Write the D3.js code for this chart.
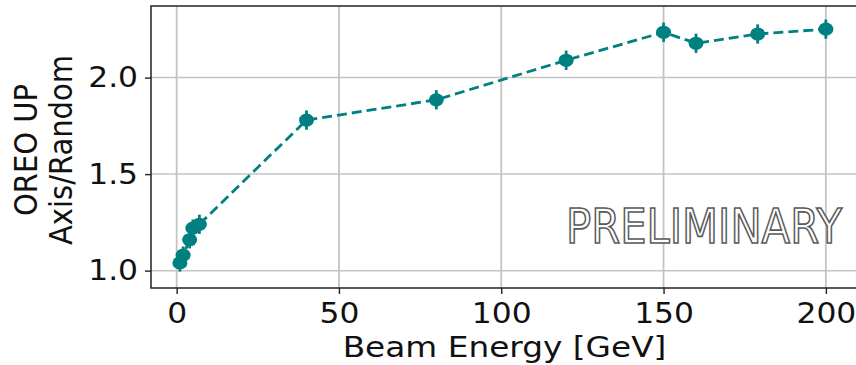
<!DOCTYPE html>
<html>
<head>
<meta charset="UTF-8">
<title>OREO UP Axis/Random vs Beam Energy</title>
<style>
  body { margin: 0; background: #fff; }
  svg { display: block; font-family: "DejaVu Sans", sans-serif; }
</style>
</head>
<body>
<script src="https://cdn.jsdelivr.net/npm/d3@7"></script>
<script>
// data
const energy = [1, 2, 4, 5, 7, 40, 80, 120, 150, 160, 179, 200];
const ratio  = [1.04, 1.08, 1.16, 1.22, 1.24, 1.78, 1.885, 2.09, 2.235, 2.178, 2.226, 2.251];
const ratioErr = [0.045, 0.045, 0.045, 0.045, 0.05, 0.05, 0.05, 0.05, 0.05, 0.05, 0.05, 0.05];
const xTicks = [0, 50, 100, 150, 200];
const yTicks = [1.0, 1.5, 2.0];

const width = 856, height = 365;
const margin = {top: 6, right: -2, bottom: 77, left: 151};
const color = "#008080";
const fs = 29;        // font size
const sx = 1.13;      // the reference is stretched sideways
const sxTick = 1.08;

const svg = d3.select("body").append("svg")
  .attr("width", width)
  .attr("height", height);

const x = d3.scaleLinear()
  .domain([-7.9, 209.9])
  .range([margin.left, width - margin.right]);

const y = d3.scaleLinear()
  .domain([0.910, 2.371])
  .range([height - margin.bottom, margin.top]);

// grid
svg.append("g")
  .selectAll("line")
  .data(xTicks)
  .join("line")
    .attr("x1", d => x(d)).attr("x2", d => x(d))
    .attr("y1", margin.top).attr("y2", height - margin.bottom)
    .attr("stroke", "#c4c4c4").attr("stroke-width", 1.8);

svg.append("g")
  .selectAll("line")
  .data(yTicks)
  .join("line")
    .attr("x1", margin.left).attr("x2", width - margin.right)
    .attr("y1", d => y(d)).attr("y2", d => y(d))
    .attr("stroke", "#c4c4c4").attr("stroke-width", 1.5);

// axes
const xAxis = svg.append("g")
  .attr("transform", `translate(0,${height - margin.bottom})`)
  .call(d3.axisBottom(x).tickValues(xTicks).tickFormat(d3.format("d")).tickSize(6).tickPadding(8));

const yAxis = svg.append("g")
  .attr("transform", `translate(${margin.left},0)`)
  .call(d3.axisLeft(y).tickValues(yTicks).tickFormat(d3.format(".1f")).tickSize(6).tickPadding(6));

[xAxis, yAxis].forEach(a => {
  a.select(".domain").remove();
  a.selectAll(".tick line").attr("stroke", "#222").attr("stroke-width", 1.4);
  a.selectAll(".tick text")
    .attr("font-family", "DejaVu Sans, sans-serif")
    .attr("font-size", fs)
    .attr("fill", "#111")
    .attr("transform", `scale(${sxTick},1)`);
});

// spines
svg.append("rect")
  .attr("x", margin.left).attr("y", margin.top)
  .attr("width", width - margin.right - margin.left)
  .attr("height", height - margin.bottom - margin.top)
  .attr("fill", "none").attr("stroke", "#222").attr("stroke-width", 1.5);

// preliminary watermark
const prelim = svg.append("g").attr("transform", "translate(566,243)");
const pt = prelim.append("text")
  .attr("font-family", "DejaVu Sans, sans-serif")
  .attr("font-size", 48)
  .attr("fill", "#fff")
  .attr("stroke", "#5a5a5a")
  .attr("stroke-width", 1.7)
  .text("PRELIMINARY");
const plen = pt.node().getComputedTextLength();
pt.attr("transform", `scale(${276 / plen},1)`);

const pts = energy.map((e, i) => ({e, r: ratio[i], err: ratioErr[i]}));

// dashed line
svg.append("path")
  .datum(pts)
  .attr("fill", "none")
  .attr("stroke", color)
  .attr("stroke-width", 2.8)
  .attr("stroke-dasharray", "10,5")
  .attr("d", d3.line().x(d => x(d.e)).y(d => y(d.r)));

// error bars
svg.append("g")
  .selectAll("line")
  .data(pts)
  .join("line")
    .attr("x1", d => x(d.e)).attr("x2", d => x(d.e))
    .attr("y1", d => y(d.r - d.err)).attr("y2", d => y(d.r + d.err))
    .attr("stroke", color).attr("stroke-width", 2.8);

// markers
svg.append("g")
  .selectAll("ellipse")
  .data(pts)
  .join("ellipse")
    .attr("cx", d => x(d.e))
    .attr("cy", d => y(d.r))
    .attr("rx", 7.5)
    .attr("ry", 6.6)
    .attr("fill", color);

// axis labels
svg.append("text")
  .attr("transform", `translate(${(margin.left + width - margin.right) / 2},357) scale(${sx},1)`)
  .attr("text-anchor", "middle")
  .attr("font-size", fs)
  .attr("fill", "#111")
  .text("Beam Energy [GeV]");

const yl = svg.append("text")
  .attr("transform", `translate(0,150) scale(${sx},1) rotate(-90)`)
  .attr("text-anchor", "middle")
  .attr("font-size", fs)
  .attr("fill", "#111");
yl.append("tspan").attr("x", 0).attr("y", 32.5).text("OREO UP");
yl.append("tspan").attr("x", 0).attr("y", 64).text("Axis/Random");
</script>
</body>
</html>
